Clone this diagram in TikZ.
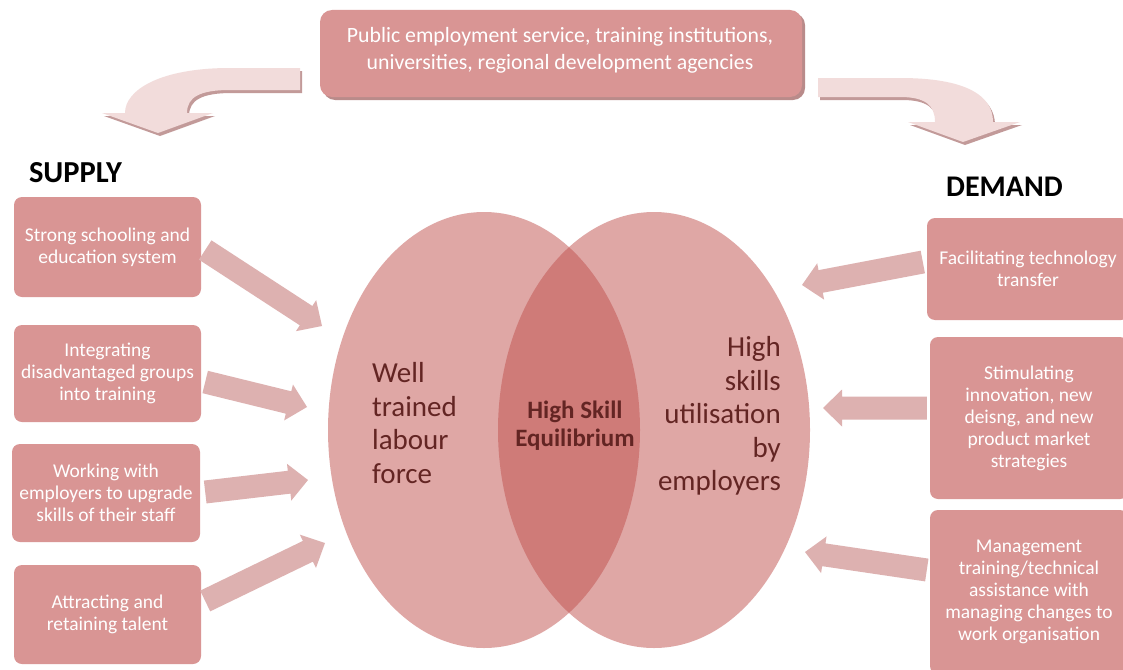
\documentclass[tikz,border=0pt]{standalone}
\usepackage{fontspec}
\setmainfont{Carlito}
\usetikzlibrary{calc,shapes.geometric}
\definecolor{boxfill}{HTML}{D99594}
\definecolor{boxshadow}{HTML}{B98B8A}
\definecolor{arrowfill}{HTML}{DDB1B0}
\definecolor{curvefill}{HTML}{F2DCDB}
\definecolor{curveshadow}{HTML}{C29A99}
\definecolor{vennfill}{HTML}{C0504D}
\definecolor{venntext}{HTML}{632523}
\newcommand{\blkarrow}[3]{%
  \coordinate (#3h) at ($(#2)!19pt!(#1)$);
  \fill[arrowfill] ($(#1)!11.5pt!90:(#2)$) -- ($(#3h)!11.5pt!90:(#2)$) -- ($(#3h)!18.5pt!90:(#2)$)
    -- (#2) -- ($(#3h)!18.5pt!-90:(#2)$) -- ($(#3h)!11.5pt!-90:(#2)$) -- ($(#1)!11.5pt!-90:(#2)$) -- cycle;
}
\tikzset{
  sidebox/.style={rectangle, rounded corners=8pt, fill=boxfill, text=white, align=center,
    inner sep=0pt, font=\fontsize{19.5}{22}\selectfont},
  vennset/.style={ellipse, fill=vennfill, fill opacity=0.5, draw=none, inner sep=0pt,
    minimum width=312pt, minimum height=436pt},
  venntxt/.style={text=venntext, font=\fontsize{29}{33.5}\selectfont, inner sep=0pt},
  heading/.style={font=\bfseries\fontsize{30.5}{33}\selectfont, text=black, inner sep=0pt}
}
\begin{document}
\begin{tikzpicture}[x=1pt,y=-1pt]
\useasboundingbox (0,0) rectangle (1123,669);
\clip (0,0) rectangle (1123,669);
\fill[white] (0,0) rectangle (1123,669);

% top box
\fill[boxshadow, rounded corners=12pt] (323,13) rectangle (805,100);
\node[sidebox, minimum width=482pt, minimum height=87pt, rounded corners=12pt] (top) at (561,53.5) {};
\node[text=white, align=center, inner sep=0pt, font=\fontsize{21.8}{26.5}\selectfont] (toptxt) at (560,50.5)
  {Public employment service, training institutions,\\universities, regional development agencies};

% curved arrows
\begin{scope}[shift={(2,3)}]
\fill[curveshadow] (300,68) -- (230,68) .. controls (160,68) and (125,90) .. (125,113) -- (102,113)
  -- (158,133) -- (213,113) -- (187,113) .. controls (187,97) and (200,90) .. (230,90) -- (300,90) -- cycle;
\fill[curveshadow] (818,78) -- (900,78) .. controls (965,78) and (993,95) .. (993,122) -- (1020,122)
  -- (963,142) -- (908,122) -- (935,122) .. controls (935,105) and (925,97) .. (900,97) -- (818,97) -- cycle;
\end{scope}
\fill[curvefill] (300,68) -- (230,68) .. controls (160,68) and (125,90) .. (125,113) -- (102,113)
  -- (158,133) -- (213,113) -- (187,113) .. controls (187,97) and (200,90) .. (230,90) -- (300,90) -- cycle;
\fill[curvefill] (818,78) -- (900,78) .. controls (965,78) and (993,95) .. (993,122) -- (1020,122)
  -- (963,142) -- (908,122) -- (935,122) .. controls (935,105) and (925,97) .. (900,97) -- (818,97) -- cycle;

% headings
\node[heading] (supply) at (75.5,173) {SUPPLY};
\node[heading, font=\bfseries\fontsize{30}{33}\selectfont] (demand) at (1004.5,187) {DEMAND};

% venn
\node[vennset] (left) at (484,430) {};
\node[vennset] (right) at (654,430) {};
\node[venntxt, anchor=west, align=left] (ltxt) at (372,423) {Well\\trained\\labour\\force};
\node[venntxt, anchor=east, align=right] (rtxt) at (781,416) {High\\skills\\utilisation\\by\\employers};
\node[text=venntext, font=\bfseries\fontsize{25}{28}\selectfont, align=center, inner sep=0pt] (mid)
  at (575,426) {High Skill\\Equilibrium};

% left boxes
\node[sidebox, minimum width=187pt, minimum height=100pt] (s1) at (107.5,247) {Strong schooling and\\education system};
\node[sidebox, minimum width=187pt, minimum height=97pt] (s2) at (107.5,373.5) {Integrating\\disadvantaged groups\\into training};
\node[sidebox, minimum width=188pt, minimum height=98pt] (s3) at (106,493) {Working with\\employers to upgrade\\skills of their staff};
\node[sidebox, minimum width=187pt, minimum height=99pt] (s4) at (107.5,614.5) {Attracting and\\retaining talent};

% right boxes
\node[sidebox, minimum width=202pt, minimum height=102pt] (d1) at (1028,269) {Facilitating technology\\transfer};
\node[sidebox, minimum width=198pt, minimum height=162pt] (d2) at (1029,418) {Stimulating\\innovation, new\\deisng, and new\\product market\\strategies};
\node[sidebox, minimum width=198pt, minimum height=164pt] (d3) at (1029,592) {Management\\training/technical\\assistance with\\managing changes to\\work organisation};

% arrow coordinates
\coordinate (a1t) at ($(s1.east)+(4,3)$);   \coordinate (a1h) at (322,326);
\coordinate (a2t) at ($(s2.east)+(4,8.5)$); \coordinate (a2h) at (307,407);
\coordinate (a3t) at ($(s3.east)+(5,-1)$);  \coordinate (a3h) at (308,480);
\coordinate (a4t) at ($(s4.east)+(4,-13.5)$); \coordinate (a4h) at (325,543);
\coordinate (b1t) at ($(d1.west)+(-4,-7)$); \coordinate (b1h) at (802,285);
\coordinate (b2t) at ($(d2.west)+(-3,-10)$); \coordinate (b2h) at (823,408);
\coordinate (b3t) at ($(d3.west)+(-3,-22)$); \coordinate (b3h) at (805,552);

\blkarrow{a1t}{a1h}{ah1}
\blkarrow{a2t}{a2h}{ah2}
\blkarrow{a3t}{a3h}{ah3}
\blkarrow{a4t}{a4h}{ah4}
\blkarrow{b1t}{b1h}{bh1}
\blkarrow{b2t}{b2h}{bh2}
\blkarrow{b3t}{b3h}{bh3}
\end{tikzpicture}
\end{document}
